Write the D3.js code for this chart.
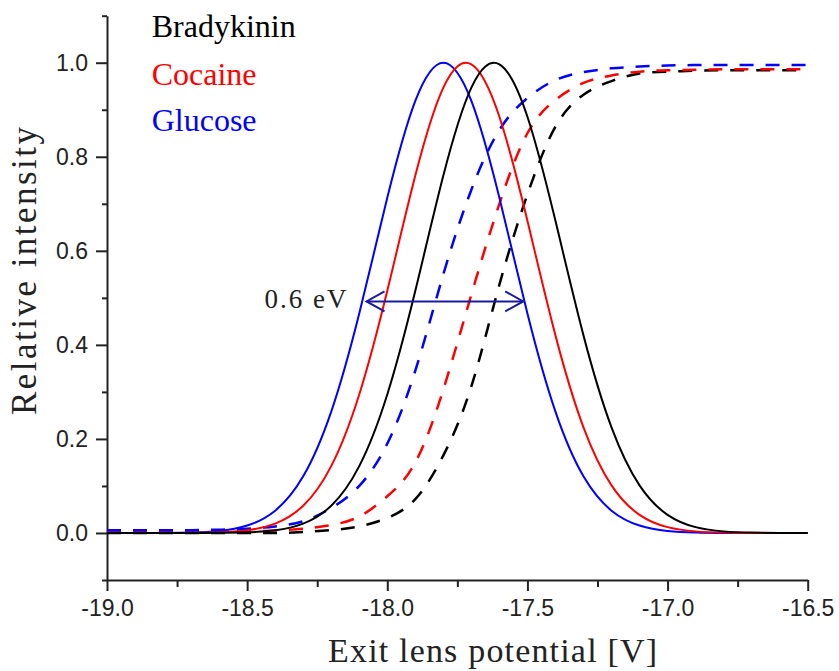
<!DOCTYPE html>
<html>
<head>
<meta charset="utf-8">
<script src="https://cdn.jsdelivr.net/npm/d3@7/dist/d3.min.js"></script>
<style>
  body { margin: 0; background: #fff; }
  .tick text { font-family: "Liberation Sans", Arial, sans-serif; font-size: 23px; fill: #222; }
  .axis path, .axis line { stroke: #222; stroke-width: 2; }
</style>
</head>
<body>
<svg id="chart"></svg>
<script>
// exit lens potential [V], sampled every 0.1 V
var potential = [-19.0, -18.9, -18.8, -18.7, -18.6, -18.5, -18.4, -18.3, -18.2, -18.1, -18.0, -17.9, -17.8,
                 -17.7, -17.6, -17.5, -17.4, -17.3, -17.2, -17.1, -17.0, -16.9, -16.8, -16.7, -16.6, -16.5];

// peak curves (solid)
var glucosePeak    = [0, 0, 0.0002, 0.001, 0.0044, 0.0158, 0.0474, 0.1204, 0.258, 0.4667, 0.7127, 0.9188, 1.0,
                      0.9188, 0.7127, 0.4667, 0.258, 0.1204, 0.0474, 0.0158, 0.0044, 0.001, 0.0002, 0, 0, 0];
var cocainePeak    = [0, 0, 0, 0.0003, 0.0014, 0.0058, 0.0199, 0.0579, 0.1422, 0.2944, 0.5149, 0.7601, 0.9472,
                      0.9966, 0.8852, 0.6638, 0.4202, 0.2246, 0.1013, 0.0386, 0.0124, 0.0034, 0.0008, 0.0002, 0, 0];
var bradykininPeak = [0, 0, 0, 0, 0.0003, 0.0014, 0.0058, 0.0199, 0.0579, 0.1422, 0.2944, 0.5149, 0.7601,
                      0.9472, 0.9966, 0.8852, 0.6638, 0.4202, 0.2246, 0.1013, 0.0386, 0.0124, 0.0034, 0.0008, 0.0002, 0];

// integrated curves (dashed)
var glucoseSum    = [0.006, 0.006, 0.006, 0.006, 0.007, 0.009, 0.014, 0.025, 0.053, 0.10, 0.19, 0.345, 0.55,
                     0.73, 0.857, 0.925, 0.963, 0.980, 0.988, 0.992, 0.994, 0.995, 0.995, 0.995, 0.995, 0.995];
var cocaineSum    = [0.002, 0.002, 0.002, 0.002, 0.002, 0.003, 0.005, 0.009, 0.017, 0.035, 0.078, 0.15, 0.305,
                     0.507, 0.70, 0.85, 0.921, 0.957, 0.973, 0.981, 0.984, 0.985, 0.986, 0.986, 0.986, 0.986];
var bradykininSum = [0, 0, 0, 0, 0, 0, 0, 0.002, 0.006, 0.014, 0.032, 0.072, 0.165,
                     0.312, 0.528, 0.72, 0.864, 0.932, 0.961, 0.977, 0.981, 0.983, 0.984, 0.984, 0.984, 0.984];

var names = ["Bradykinin", "Cocaine", "Glucose"];
var xMajor = [-19.0, -18.5, -18.0, -17.5, -17.0, -16.5];
var xMinor = [-18.75, -18.25, -17.75, -17.25, -16.75];
var yMajor = [0.0, 0.2, 0.4, 0.6, 0.8, 1.0];
var yMinor = [-0.1, 0.1, 0.3, 0.5, 0.7, 0.9, 1.1];

// FWHM annotation
var arrowSpan = [-18.074, -17.515], arrowLevel = 0.4925, arrowText = "0.6 eV";

var margin = {top: 15.7, right: 31.3, bottom: 91, left: 107},
    width  = 839 - margin.left - margin.right,
    height = 671 - margin.top - margin.bottom;

var svg = d3.select("#chart")
    .attr("width", 839)
    .attr("height", 671)
    .append("g")
        .attr("transform", "translate(" + margin.left + "," + margin.top + ")");

var x = d3.scaleLinear().domain([-19.0, -16.5]).range([0, width]);
var y = d3.scaleLinear().domain([-0.1, 1.1]).range([height, 0]);

var fmt = function(d) { return d.toFixed(1); };

// axes: major + minor ticks
svg.append("g")
    .attr("class", "axis")
    .attr("transform", "translate(0," + height + ")")
    .call(d3.axisBottom(x).tickValues(xMajor).tickFormat(fmt).tickSizeInner(11).tickSizeOuter(0).tickPadding(9));
svg.append("g")
    .attr("class", "axis")
    .attr("transform", "translate(0," + height + ")")
    .call(d3.axisBottom(x).tickValues(xMinor).tickFormat("").tickSizeInner(7).tickSizeOuter(0))
    .select(".domain").remove();

svg.append("g")
    .attr("class", "axis")
    .call(d3.axisLeft(y).tickValues(yMajor).tickFormat(fmt).tickSizeInner(11).tickSizeOuter(0).tickPadding(8));
svg.append("g")
    .attr("class", "axis")
    .call(d3.axisLeft(y).tickValues(yMinor).tickFormat("").tickSizeInner(5).tickSizeOuter(0))
    .select(".domain").remove();

// smooth spline through the sampled values
var line = function(values) {
    return d3.line()
        .x(function(d, i) { return x(potential[i]); })
        .y(function(d) { return y(d); })
        .curve(d3.curveNatural)(values);
};

var series = [
    {values: bradykininSum,  color: "#000000", dashed: true},
    {values: cocaineSum,     color: "#ff0000", dashed: true},
    {values: glucoseSum,     color: "#0000ff", dashed: true},
    {values: glucosePeak,    color: "#0000ff", dashed: false},
    {values: cocainePeak,    color: "#ff0000", dashed: false},
    {values: bradykininPeak, color: "#000000", dashed: false}
];

svg.append("g")
    .selectAll("path")
    .data(series)
    .enter().append("path")
        .attr("d", function(d) { return line(d.values); })
        .attr("fill", "none")
        .attr("stroke", function(d) { return d.color; })
        .attr("stroke-width", function(d) { return d.dashed ? 2.5 : 2; })
        .attr("stroke-dasharray", function(d) { return d.dashed ? "14,12" : null; });

// double arrow
var ay = y(arrowLevel), ax0 = x(arrowSpan[0]), ax1 = x(arrowSpan[1]);
var arrow = svg.append("g")
    .attr("stroke", "#1a1aa0")
    .attr("stroke-width", 2)
    .attr("fill", "none");
arrow.append("line").attr("x1", ax0).attr("x2", ax1).attr("y1", ay).attr("y2", ay);
arrow.append("path").attr("d", "M" + (ax0 + 18) + "," + (ay - 10) + "L" + ax0 + "," + ay + "L" + (ax0 + 18) + "," + (ay + 10));
arrow.append("path").attr("d", "M" + (ax1 - 18) + "," + (ay - 10) + "L" + ax1 + "," + ay + "L" + (ax1 - 18) + "," + (ay + 10));

svg.append("text")
    .attr("x", ax0 - 20)
    .attr("y", ay + 7)
    .attr("text-anchor", "end")
    .attr("textLength", 82)
    .style("font-family", "'Liberation Serif', 'Times New Roman', serif")
    .style("font-size", "27px")
    .style("fill", "#222")
    .text(arrowText);

// legend (coloured names)
var legendColor = ["#000000", "#ff0000", "#0000ff"];
svg.append("g")
    .selectAll("text")
    .data(names)
    .enter().append("text")
        .attr("x", 151.7 - margin.left)
        .attr("y", function(d, i) { return [36.7, 85, 131][i] - margin.top; })
        .style("font-family", "'Liberation Serif', 'Times New Roman', serif")
        .style("font-size", "32px")
        .style("fill", function(d, i) { return legendColor[i]; })
        .text(function(d) { return d; });

// axis titles
svg.append("text")
    .attr("x", 492.5 - margin.left)
    .attr("y", 661.7 - margin.top)
    .attr("text-anchor", "middle")
    .attr("textLength", 329)
    .style("font-family", "'Liberation Serif', 'Times New Roman', serif")
    .style("font-size", "34px")
    .style("fill", "#222")
    .text("Exit lens potential [V]");

svg.append("text")
    .attr("transform", "translate(" + (36 - margin.left) + "," + (271 - margin.top) + ") rotate(-90)")
    .attr("text-anchor", "middle")
    .attr("textLength", 288)
    .style("font-family", "'Liberation Serif', 'Times New Roman', serif")
    .style("font-size", "35px")
    .style("fill", "#222")
    .text("Relative intensity");
</script>
</body>
</html>
